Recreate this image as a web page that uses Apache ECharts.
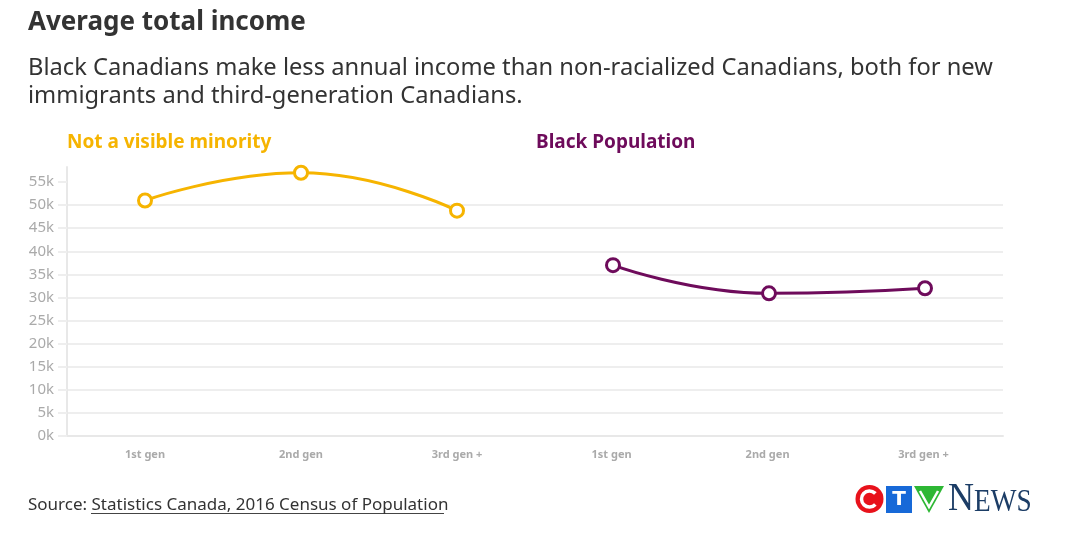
<!DOCTYPE html>
<html><head><meta charset="utf-8">
<script src="https://cdn.jsdelivr.net/npm/echarts@6/dist/echarts.min.js"></script>
<style>html,body{margin:0;padding:0;background:#fff}#c{width:1080px;height:553px}</style>
</head><body><div id="c"></div>
<script>
const categories = ['1st gen','2nd gen','3rd gen +','1st gen ','2nd gen ','3rd gen + '];
const notVisibleMinority = [51000, 57000, 48800, null, null, null];
const blackPopulation = [null, null, null, 37000, 30900, 32000];
const yTicks = [0,5000,10000,15000,20000,25000,30000,35000,40000,45000,50000,55000];
const seriesNames = ['Not a visible minority', 'Black Population'];

const FONT = '"Noto Sans"';
const YELLOW = '#f6b400';
const PURPLE = '#6e0b5b';
const chart = echarts.init(document.getElementById('c'));
chart.setOption({
  animation: false,
  backgroundColor: '#fff',
  title: [
    {text: 'Average total income', left: 23, top: 5,
     textStyle: {fontFamily: FONT, fontSize: 26, fontWeight: 'bold', color: '#333'}},
    {text: 'Black Canadians make less annual income than non-racialized Canadians, both for new\nimmigrants and third-generation Canadians.',
     left: 23, top: 49,
     textStyle: {fontFamily: FONT, fontSize: 23.7, fontWeight: 'normal', color: '#333', lineHeight: 28}},
    {text: seriesNames[0], left: 62, top: 128,
     textStyle: {fontFamily: FONT, fontSize: 19, fontWeight: 'bold', color: YELLOW}},
    {text: seriesNames[1], left: 531, top: 128,
     textStyle: {fontFamily: FONT, fontSize: 19, fontWeight: 'bold', color: PURPLE}},
    {text: 'Source: Statistics Canada, 2016 Census of Population', left: 23, top: 492,
     textStyle: {fontFamily: FONT, fontSize: 17, fontWeight: 'normal', color: '#333'}}
  ],
  grid: {left: 67, right: 77, top: 167, bottom: 117, containLabel: false},
  xAxis: {
    type: 'category', data: categories, boundaryGap: true,
    axisLine: {lineStyle: {color: '#e8e8e8', width: 2}},
    axisTick: {alignWithLabel: true, length: 7, lineStyle: {color: '#e8e8e8', width: 2}},
    axisLabel: {color: '#aaa', fontFamily: FONT, fontSize: 11, fontWeight: 'bold', margin: 13}
  },
  yAxis: {
    type: 'value', min: 0, max: 58250, interval: 5000,
    axisLine: {show: true, lineStyle: {color: '#e8e8e8', width: 2}},
    axisTick: {show: true, length: 9, customValues: yTicks, lineStyle: {color: '#eeeeee', width: 2}},
    axisLabel: {customValues: yTicks, color: '#aaa', fontFamily: FONT, fontSize: 15, margin: 13,
      formatter: v => (v/1000) + 'k'},
    splitLine: {show: true, showMaxLine: false, lineStyle: {color: '#eeeeee', width: 2}}
  },
  series: [
    {name: seriesNames[0], type: 'line', data: notVisibleMinority, smooth: 0.5, clip: false,
     symbol: 'circle', symbolSize: 13,
     itemStyle: {color: '#fff', borderColor: YELLOW, borderWidth: 3},
     lineStyle: {color: YELLOW, width: 3}},
    {name: seriesNames[1], type: 'line', data: blackPopulation, smooth: 0.5, clip: false,
     symbol: 'circle', symbolSize: 13,
     itemStyle: {color: '#fff', borderColor: PURPLE, borderWidth: 3},
     lineStyle: {color: PURPLE, width: 3}}
  ],
  graphic: [
    {type: 'line', shape: {x1: 91, y1: 513.5, x2: 444, y2: 513.5}, style: {stroke: '#444', lineWidth: 1}},
    {type: 'group', x: 855, y: 485, children: [
      {type: 'circle', shape: {cx: 14.5, cy: 14, r: 14}, style: {fill: '#e8121b'}},
      {type: 'arc', shape: {cx: 14.5, cy: 14, r: 8, startAngle: 0.75, endAngle: -0.75, clockwise: true},
       style: {stroke: '#fff', lineWidth: 3.5, fill: null}},
      {type: 'rect', shape: {x: 31, y: 1, width: 26, height: 27}, style: {fill: '#1769d8'}},
      {type: 'text', style: {text: 'T', x: 44, y: 15, align: 'center', verticalAlign: 'middle',
        fill: '#fff', font: 'bold 20px "DejaVu Sans"'}},
      {type: 'polygon', shape: {points: [[59,1],[89,1],[74,28]]}, style: {fill: '#2db734'}},
      {type: 'polyline', shape: {points: [[65,6],[74,22],[83,6]]}, style: {stroke: '#fff', lineWidth: 2.5, fill: null}},
      {type: 'text', x: 93, y: 14.5, scaleX: 0.9, style: {text: 'N', x: 0, y: 0, verticalAlign: 'middle',
        fill: '#1c3d66', font: '40px "Liberation Serif"'}},
      {type: 'text', x: 119, y: 18, scaleX: 0.88, style: {text: 'EWS', x: 0, y: 0, verticalAlign: 'middle',
        fill: '#1c3d66', font: '31px "Liberation Serif"'}}
    ]}
  ]
});
</script></body></html>
